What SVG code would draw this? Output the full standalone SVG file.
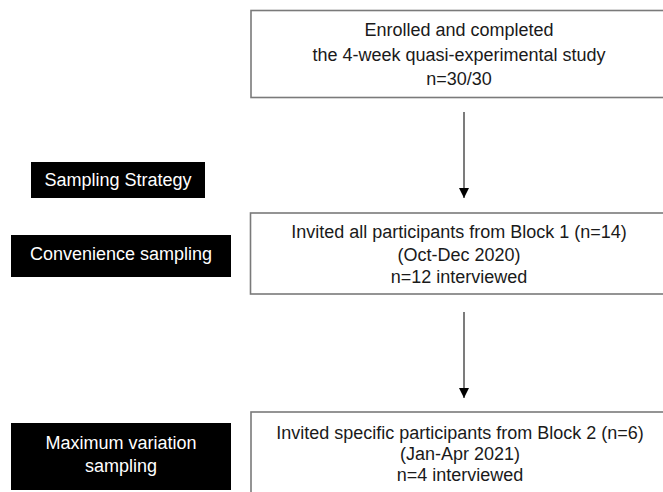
<svg xmlns="http://www.w3.org/2000/svg" width="663" height="492" viewBox="0 0 663 492">
<style>
.box{fill:#fff;stroke:#7a7a7a;stroke-width:1.6}
.blk{fill:#000}
.t{font-family:"Liberation Sans",Arial,sans-serif;font-size:18px;fill:#1a1a1a;text-anchor:middle}
.w{fill:#fff}
.con{stroke:#6e6e6e;stroke-width:1.8;fill:none}
</style>
<defs>
<marker id="ah" viewBox="0 0 10 10" refX="10" refY="5" markerWidth="10" markerHeight="10" markerUnits="userSpaceOnUse" orient="auto">
<path d="M0,0 L10,5 L0,10 Z" fill="#000"/>
</marker>
</defs>
<rect width="663" height="492" fill="#fff"/>
<g id="connectors">
<line class="con" x1="464" y1="112" x2="464" y2="198" marker-end="url(#ah)"/>
<line class="con" x1="464" y1="312" x2="464" y2="398" marker-end="url(#ah)"/>
</g>
<g id="node-enrolled">
<rect class="box" x="251" y="10.5" width="420" height="87"/>
<text class="t" x="459" y="36">Enrolled and completed</text>
<text class="t" x="459" y="60.5">the 4-week quasi-experimental study</text>
<text class="t" x="459" y="84.5">n=30/30</text>
</g>
<g id="label-strategy">
<rect class="blk" x="31" y="162" width="174" height="36"/>
<text class="t w" x="118" y="186">Sampling Strategy</text>
</g>
<g id="label-convenience">
<rect class="blk" x="11" y="235" width="220" height="42"/>
<text class="t w" x="121" y="259.5">Convenience sampling</text>
</g>
<g id="node-block1">
<rect class="box" x="250.5" y="213" width="420" height="81"/>
<text class="t" x="459" y="238">Invited all participants from Block 1 (n=14)</text>
<text class="t" x="459" y="260.5">(Oct-Dec 2020)</text>
<text class="t" x="459" y="283">n=12 interviewed</text>
</g>
<g id="label-maxvar">
<rect class="blk" x="11" y="423" width="220" height="67"/>
<text class="t w" x="121" y="449">Maximum variation</text>
<text class="t w" x="121" y="472">sampling</text>
</g>
<g id="node-block2">
<rect class="box" x="251" y="412" width="420" height="100"/>
<text class="t" x="460" y="439">Invited specific participants from Block 2 (n=6)</text>
<text class="t" x="460" y="460">(Jan-Apr 2021)</text>
<text class="t" x="460" y="481">n=4 interviewed</text>
</g>
</svg>
